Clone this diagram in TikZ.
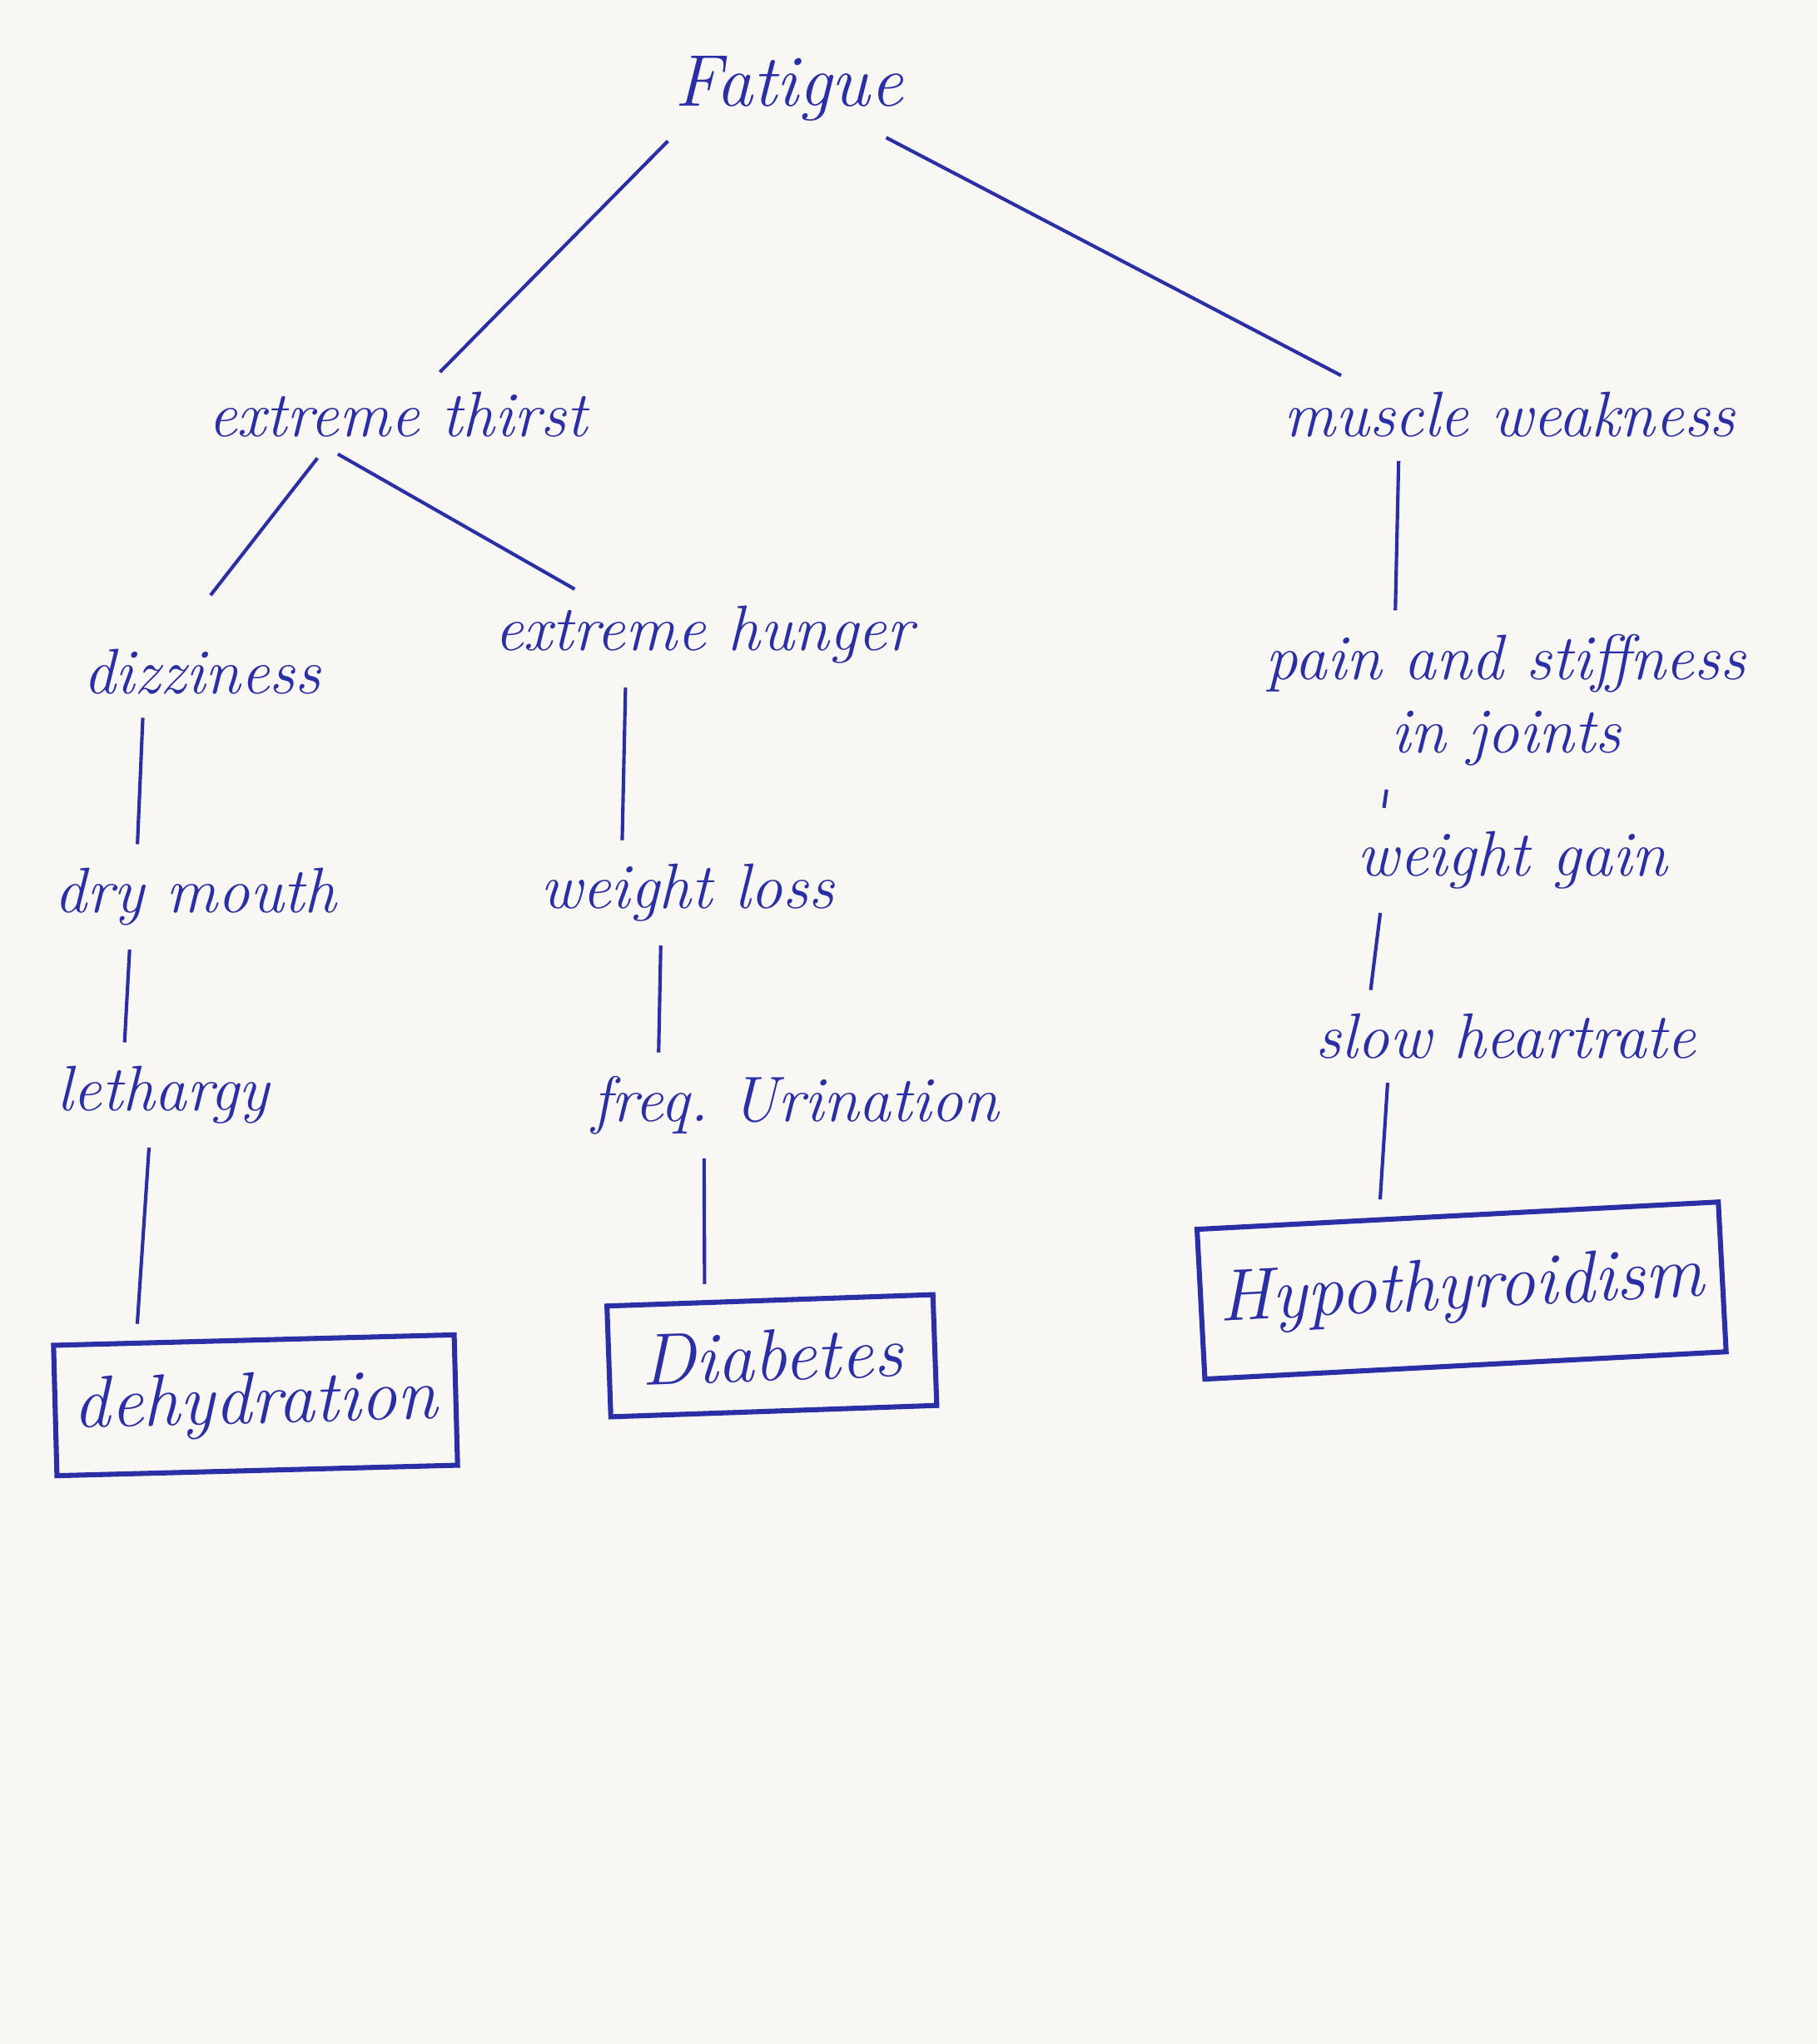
\documentclass[tikz,border=0pt]{standalone}
\usetikzlibrary{positioning}
\definecolor{inkblue}{HTML}{2B2FA6}
\definecolor{paperbg}{HTML}{F8F7F4}
\begin{document}
\begin{tikzpicture}[x=0.01cm,y=-0.01cm,
    sym/.style={text=inkblue,font=\fontsize{14}{16}\selectfont\itshape,inner sep=2pt,align=center},
    dx/.style={draw=inkblue,line width=1.1pt,text=inkblue,
      font=\fontsize{16}{19}\selectfont\itshape,inner sep=4pt},
    link/.style={draw=inkblue,line width=.75pt,shorten <=3pt,shorten >=3pt}]
 \fill[paperbg] (0,0) rectangle (1394,1568);
 \useasboundingbox (0,0) rectangle (1394,1568);
 % top of the tree
 \path[nodes=sym]
   node[font=\fontsize{16}{19}\selectfont\itshape] (fat) at (605,68) {Fatigue}
   node (thi) at (305,318) {extreme thirst}
   node (mus) at (1158,318) {muscle weakness};
 % symptoms
 \path[nodes=sym]
   node (diz) at (155,515) {dizziness}
   node (hun) at (540,487) {extreme hunger}
   node (pai) at (1155,537) {pain and stiffness\\in joints}
   node (dry) at (150,688) {dry mouth}
   node (wlo) at (527,685) {weight loss}
   node (wga) at (1160,660) {weight gain}
   node (let) at (125,840) {lethargy}
   node (fre) at (610,848) {freq.\ Urination}
   node (slo) at (1155,795) {slow heartrate};
 % diagnoses
 \path[nodes=dx]
   node[minimum width=3.05cm,minimum height=1.0cm,rotate=1.5] (deh) at (196,1078) {dehydration}
   node[minimum width=2.5cm,minimum height=.85cm,rotate=2] (dia) at (592,1040) {Diabetes}
   node[minimum width=4cm,minimum height=1.15cm,rotate=3] (hyp) at (1121,990) {Hypothyroidism};
 % connectors
 \draw[link] ([xshift=.1cm]fat.south west) -- ([xshift=.25cm]thi.north);
 \draw[link] ([xshift=-.3cm]fat.south east) -- ([xshift=-1.2cm]mus.north);
 \draw[link] ([xshift=-.55cm]thi.south) -- ([yshift=.25cm]diz.north);
 \draw[link] ([xshift=-.55cm]thi.south) -- ([xshift=-.9cm]hun.north);
 \draw[link] ([xshift=-.85cm]mus.south) -- ([xshift=-.85cm]pai.north);
 \draw[link] ([xshift=-.45cm]diz.south) -- ([xshift=-.45cm]dry.north);
 \draw[link] ([xshift=-.5cm]dry.south) -- ([xshift=-.3cm]let.north);
 \draw[link] ([xshift=-.1cm]let.south) -- ([xshift=-.9cm]deh.north);
 \draw[link] ([xshift=-.6cm]hun.south) -- ([xshift=-.5cm]wlo.north);
 \draw[link] ([xshift=-.2cm]wlo.south) -- ([xshift=-1.05cm]fre.north);
 \draw[link] ([xshift=-.7cm]fre.south) -- ([xshift=-.5cm]dia.north);
 \draw[link] ([xshift=-.9cm]pai.south) -- ([xshift=-1cm]wga.north);
 \draw[link] ([xshift=-1cm]wga.south) -- ([xshift=-1.05cm]slo.north);
 \draw[link] ([xshift=-.9cm]slo.south) -- ([xshift=-.6cm]hyp.north);
\end{tikzpicture}
\end{document}
